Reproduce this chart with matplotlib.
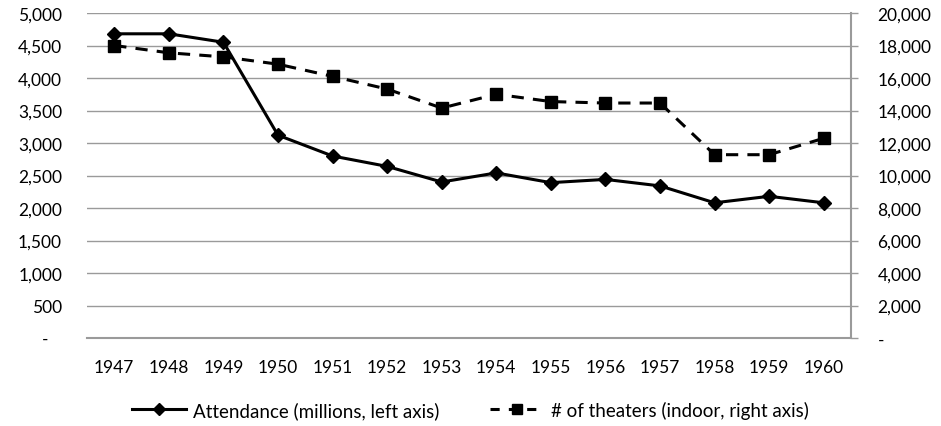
import matplotlib
matplotlib.use("Agg")
import matplotlib.pyplot as plt
from matplotlib.ticker import FuncFormatter
from matplotlib.lines import Line2D

years = ["1947", "1948", "1949", "1950", "1951", "1952", "1953", "1954",
         "1955", "1956", "1957", "1958", "1959", "1960"]
attendance = [4680, 4680, 4550, 3120, 2800, 2640, 2400, 2540, 2390, 2440, 2340, 2080, 2180, 2080]
theaters = [18000, 17550, 17300, 16850, 16100, 15320, 14150, 15000, 14550, 14460, 14460, 11280, 11280, 12290]

plt.rcParams['font.family'] = ['Lato', 'DejaVu Sans']
FS = 12.5

fig = plt.figure(figsize=(9.41, 4.27), dpi=100)
ax = fig.add_axes([87/941, 1-339/427, (851-87)/941, (339-14)/427])
ax2 = ax.twinx()

x = list(range(len(years)))
ax.plot(x, attendance, color='black', lw=2.2, marker='D', ms=7.5, zorder=3)
ax2.plot(x, theaters, color='black', lw=2.2, ls=(0, (4, 3)), marker='s', ms=8, zorder=3)

ax.set_xlim(-0.5, len(years) - 0.5)
ax.set_ylim(0, 5000)
ax2.set_ylim(0, 20000)
ax.set_yticks(range(0, 5001, 500))
ax2.set_yticks(range(0, 20001, 2000))

fmt_left = FuncFormatter(lambda v, p: '-   ' if v == 0 else f"{int(v):,}")
fmt_right = FuncFormatter(lambda v, p: '-' if v == 0 else f"{int(v):,}")
ax.yaxis.set_major_formatter(fmt_left)
ax2.yaxis.set_major_formatter(fmt_right)
ax.set_xticks(x)
ax.set_xticklabels(years)

ax.grid(axis='y', color='#9a9a9a', lw=1)
ax.set_axisbelow(True)
for a in (ax, ax2):
    for s in ['top', 'left']:
        a.spines[s].set_visible(False)
ax2.spines['bottom'].set_visible(False)
ax.spines['right'].set_visible(False)
ax.spines['bottom'].set_color('#9a9a9a')
ax2.spines['right'].set_color('#9a9a9a')
ax2.spines['right'].set_linewidth(1.5)
ax.spines['bottom'].set_linewidth(1.5)

ax.tick_params(axis='y', length=0, labelsize=FS, pad=18)
ax.tick_params(axis='x', length=0, labelsize=FS, pad=15)
ax2.tick_params(axis='y', length=5, width=1, color='#9a9a9a', labelsize=FS, pad=14)

handles = [
    Line2D([], [], color='black', lw=2.2, marker='D', ms=6),
    Line2D([], [], color='black', lw=2.2, ls=(0, (3, 3)), marker='s', ms=7),
]
labels = ["Attendance (millions, left axis)", "# of theaters (indoor, right axis)"]
fig.legend(handles, labels, loc='center', bbox_to_anchor=(0.5, 1 - 411/427), ncol=2,
           frameon=False, fontsize=13.5, handlelength=2.9, columnspacing=2.7,
           handletextpad=0.37, borderpad=0)

fig.savefig("out.png", dpi=100)
